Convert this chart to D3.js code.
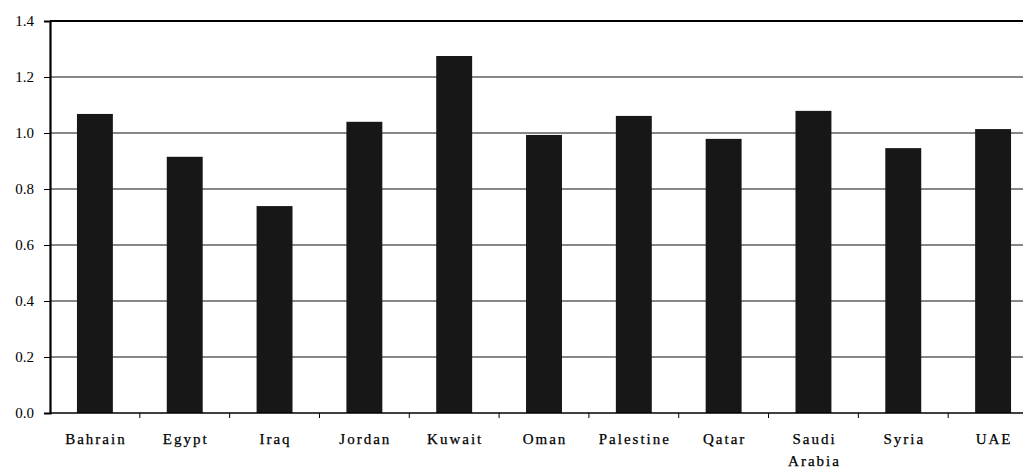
<!DOCTYPE html>
<html><head><meta charset="utf-8">
<script src="https://cdn.jsdelivr.net/npm/d3@7"></script>
<style>body{margin:0;background:#fff}svg{display:block}</style>
</head><body><svg id="c" width="1023" height="468"></svg>
<script>
const categories = ["Bahrain","Egypt","Iraq","Jordan","Kuwait","Oman","Palestine","Qatar","Saudi Arabia","Syria","UAE"];
const values = [1.068,0.915,0.739,1.040,1.275,0.993,1.061,0.979,1.079,0.946,1.014];
const yTicks = [0,0.2,0.4,0.6,0.8,1.0,1.2,1.4];

(function(){
const svg = d3.select("#c");
const mL = 50, mR = 1038, mT = 21, mB = 413;
const x = d3.scaleBand().domain(categories).range([mL, mR]).paddingInner(0.6).paddingOuter(0.3);
const xb = d3.scaleBand().domain(categories).range([mL, mR]);
const y = d3.scaleLinear().domain([0,1.4]).range([mB, mT]);

// gridlines
svg.append("g").selectAll("line").data(yTicks.filter(t=>t>0 && t<1.4)).join("line")
  .attr("x1", mL).attr("x2", 1023).attr("y1", d=>y(d)).attr("y2", d=>y(d))
  .attr("stroke", "#111").attr("stroke-width", 1.2);
// top border
svg.append("line").attr("x1", mL).attr("x2", 1023).attr("y1", y(1.4)).attr("y2", y(1.4))
  .attr("stroke", "#000").attr("stroke-width", 2);

// bars
svg.append("g").selectAll("rect").data(categories).join("rect")
  .attr("x", d=>x(d)).attr("width", x.bandwidth())
  .attr("y", (d,i)=>y(values[i])).attr("height", (d,i)=>y(0)-y(values[i]))
  .attr("fill", "#171717");

// y axis
const yAxis = d3.axisLeft(y).tickValues(yTicks).tickFormat(d3.format(".1f")).tickSize(6).tickPadding(10);
const gy = svg.append("g").attr("transform", `translate(${mL},0)`).call(yAxis);
gy.select(".domain").attr("stroke-width", 2.2).attr("stroke","#000");
gy.selectAll(".tick line").attr("stroke","#000");
gy.selectAll("text").attr("font-family","Liberation Serif").attr("font-size", 15).attr("fill","#000");

// x axis
const gx = svg.append("g").attr("transform", `translate(0,${mB})`);
gx.append("line").attr("x1", mL).attr("x2", 1023).attr("stroke","#000").attr("stroke-width",1.6);
gx.selectAll("line.tk").data(categories.slice(1)).join("line").attr("class","tk")
  .attr("x1", d=>xb(d)).attr("x2", d=>xb(d)).attr("y1",0).attr("y2",5).attr("stroke","#000");
const lbl = gx.selectAll("text").data(categories).join("text")
  .attr("text-anchor","middle").attr("font-family","Liberation Serif").attr("font-size",15)
  .attr("letter-spacing", 2).attr("fill","#000").attr("stroke","#000").attr("stroke-width",0.25)
  .attr("transform", d=>`translate(${xb(d)+xb.bandwidth()/2+1},31)`);
lbl.each(function(d){
  const words = d.split(" ");
  d3.select(this).selectAll("tspan").data(words).join("tspan")
    .attr("x",0).attr("dy",(w,i)=>i===0?0:22).text(w=>w);
});
})();
</script></body></html>
